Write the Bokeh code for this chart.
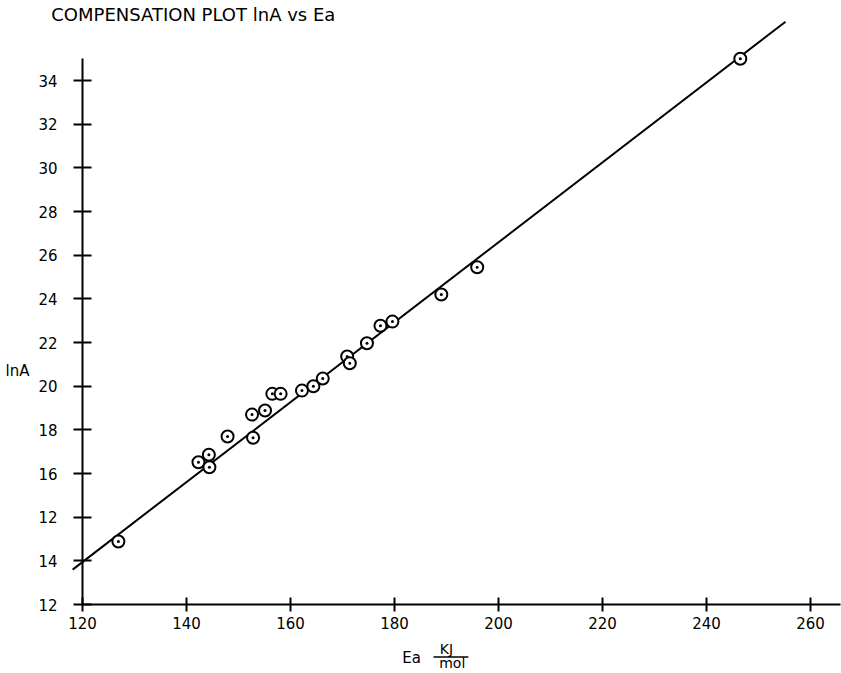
from bokeh.plotting import figure
from bokeh.models import Range1d, FixedTicker, Label, Arrow, ColumnDataSource
from bokeh.embed import file_html
from bokeh.resources import INLINE

# ---- data ----
ea = [126.9, 142.3, 144.3, 144.4, 147.9, 152.6, 152.8, 155.1, 156.5, 158.1,
      162.2, 164.4, 166.2, 170.9, 171.4, 174.7, 177.3, 179.6, 189.0, 195.9, 246.5]
lna = [12.89, 16.52, 16.86, 16.29, 17.70, 18.70, 17.64, 18.89, 19.65, 19.65,
       19.80, 20.00, 20.35, 21.36, 21.05, 21.97, 22.77, 22.96, 24.20, 25.45, 35.00]

fit_ea = [118.1, 255.2]
fit_lna = [11.6, 36.7]

x_tick_values = [120, 140, 160, 180, 200, 220, 240, 260]
y_tick_values = [10, 12, 14, 16, 18, 20, 22, 24, 26, 28, 30, 32, 34]
y_tick_labels = ["12", "14", "12", "16", "18", "20", "22", "24", "26", "28", "30", "32", "34"]

FONT = "DejaVu Sans"

p = figure(width=841, height=673, output_backend="svg", toolbar_location=None,
           x_range=Range1d(104.23, 265.96), y_range=Range1d(6.84, 37.67),
           min_border_left=0, min_border_right=0, min_border_top=0, min_border_bottom=0,
           title=None)
p.outline_line_color = None
p.xgrid.visible = False
p.ygrid.visible = False
p.background_fill_color = "white"

# fit line and points
p.line(fit_ea, fit_lna, line_color="black", line_width=2)
src = ColumnDataSource(dict(ea=ea, lna=lna))
p.scatter("ea", "lna", source=src, marker="circle_dot", size=12,
          line_color="black", line_width=2, fill_color="white")

# axes
xa = p.xaxis[0]
xa.ticker = FixedTicker(ticks=x_tick_values)
xa.bounds = (120, 265.8)
xa.fixed_location = 10
xa.axis_line_width = 2
xa.major_tick_line_width = 2
xa.major_tick_in = 7
xa.major_tick_out = 7
xa.minor_tick_line_color = None
xa.major_label_standoff = 5
xa.major_label_text_font = FONT
xa.major_label_text_font_size = "15px"
xa.major_label_text_color = "black"

ya = p.yaxis[0]
ya.ticker = FixedTicker(ticks=y_tick_values)
ya.major_label_overrides = {v: s for v, s in zip(y_tick_values, y_tick_labels)}
ya.bounds = (10, 35)
ya.fixed_location = 120
ya.axis_line_width = 2
ya.major_tick_line_width = 2
ya.major_tick_in = 9
ya.major_tick_out = 9
ya.minor_tick_line_color = None
ya.major_label_standoff = 16
ya.major_label_text_font = FONT
ya.major_label_text_font_size = "15px"
ya.major_label_text_color = "black"

# texts
def lab(txt, x, y, size="15px", align="left"):
    p.add_layout(Label(x=x, y=y, text=txt, text_font=FONT, text_font_size=size,
                       text_color="black", text_align=align, text_baseline="middle"))

lab("COMPENSATION PLOT lnA vs Ea", 114.0, 37.05, size="18px")
lab("lnA", 105.2, 20.72)
lab("Ea", 181.5, 7.57)
lab("KJ", 190.0, 7.98, size="14px", align="center")
lab("mol", 191.1, 7.30, size="14px", align="center")
p.add_layout(Arrow(end=None, x_start=187.5, y_start=7.60, x_end=194.2, y_end=7.60,
                   line_color="black", line_width=1.5))

open("out.html", "w").write(file_html(p, INLINE))
